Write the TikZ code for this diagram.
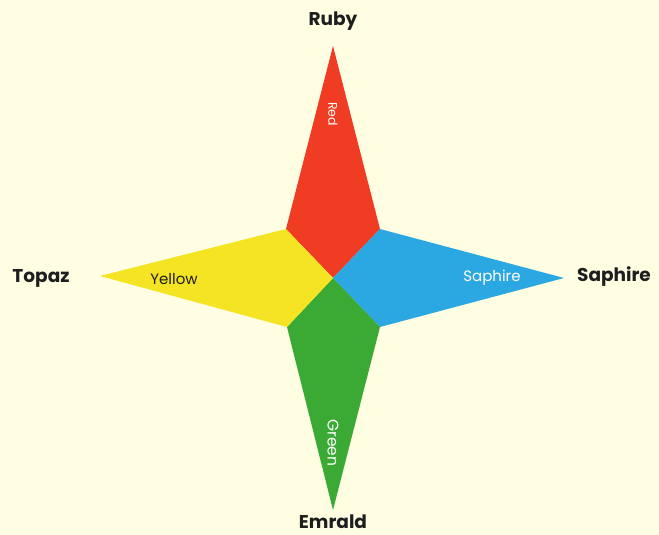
\documentclass[tikz,border=0pt]{standalone}
\usepackage{fontspec}
\setmainfont{Poppins}
\definecolor{bgc}{HTML}{FFFDE2}
\definecolor{rubyc}{HTML}{F03C22}
\definecolor{saphc}{HTML}{2BA8E2}
\definecolor{emc}{HTML}{3AAA35}
\definecolor{topc}{HTML}{F4E423}
\definecolor{txt}{HTML}{1E1E1E}
\tikzset{
  outer/.style={font=\fontsize{18.5}{20}\selectfont\bfseries, text=txt},
  inner/.style={font=\fontsize{15}{17}\selectfont, text=white},
}
\begin{document}
\begin{tikzpicture}[x=1pt,y=-1pt]
\fill[bgc] (0,0) rectangle (659,535);
\useasboundingbox (0,0) rectangle (659,535);
\coordinate (C) at (333,278);
\coordinate (T) at (333,46);
\coordinate (R) at (564,278);
\coordinate (B) at (333,510);
\coordinate (L) at (100,276);
\coordinate (TL) at (286,229);
\coordinate (TR) at (380,229);
\coordinate (BR) at (380,327);
\coordinate (BL) at (287,327);
\fill[rubyc] (T) -- (TR) -- (C) -- (TL) -- cycle;
\fill[saphc] (TR) -- (R) -- (BR) -- (C) -- cycle;
\fill[emc] (C) -- (BR) -- (B) -- (BL) -- cycle;
\fill[topc] (TL) -- (C) -- (BL) -- (L) -- cycle;
\node[outer] (ruby) at (333,21) {Ruby};
\node[outer] (topaz) at (41,278) {Topaz};
\node[outer] (saph) at (614,277) {Saphire};
\node[outer] (emr) at (333,522) {Emrald};
\node[inner, font=\fontsize{12.5}{14}\selectfont, rotate=-90] (red) at (333,114) {Red};
\node[inner, font=\fontsize{15.5}{17}\selectfont, rotate=-90] (green) at (333,443) {Green};
\node[inner, text=txt] (yel) at (174,279) {Yellow};
\node[inner] (sap2) at (492,278) {Saphire};
\end{tikzpicture}
\end{document}
